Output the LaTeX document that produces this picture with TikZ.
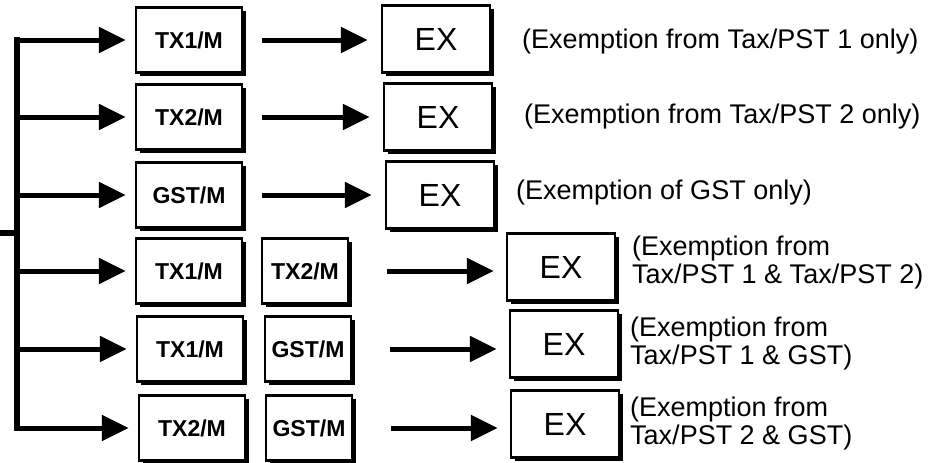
\documentclass[tikz,border=0pt]{standalone}
\usepackage{fontspec}
\setmainfont{Liberation Sans}
\usetikzlibrary{arrows.meta,shadows}
\begin{document}
\begin{tikzpicture}[x=1pt,y=-1pt,
  box/.style={draw=black, line width=2.4pt, fill=white, minimum height=65pt, inner sep=0pt,
    general shadow={fill=black, shadow xshift=3.5pt, shadow yshift=-3.5pt}},
  mbox/.style={box, minimum width=106pt, font=\fontsize{23}{26}\selectfont\bfseries},
  nbox/.style={box, minimum width=86pt, font=\fontsize{23}{26}\selectfont\bfseries},
  exbox/.style={box, minimum width=108pt, minimum height=67pt, font=\fontsize{32}{34}\selectfont},
  lbl/.style={anchor=west, inner sep=0pt, align=left, font=\fontsize{27}{28}\selectfont},
  arr/.style={line width=5pt, -{Triangle[length=27pt,width=25pt]}},
  bus/.style={line width=6pt}]
\useasboundingbox (0,0) rectangle (946,463);

% first column
\node[mbox] (a1) at (189,40) {TX1/M};
\node[mbox] (a2) at (189,117) {TX2/M};
\node[mbox] (a3) at (189,195) {GST/M};
\node[mbox] (a4) at (189,271) {TX1/M};
\node[mbox] (a5) at (190,349) {TX1/M};
\node[mbox] (a6) at (192,428) {TX2/M};

% second column
\node[nbox] (b4) at (305,271) {TX2/M};
\node[nbox] (b5) at (308,349) {GST/M};
\node[nbox] (b6) at (309,428) {GST/M};

% EX boxes
\node[exbox] (e1) at (436,39) {EX};
\node[exbox] (e2) at (438,117) {EX};
\node[exbox] (e3) at (440,195) {EX};
\node[exbox] (e4) at (561,267) {EX};
\node[exbox] (e5) at (564,344) {EX};
\node[exbox] (e6) at (565,424) {EX};

% labels
\node[lbl] (l1) at (522,42) {(Exemption from Tax/PST 1 only)};
\node[lbl] (l2) at (524,117) {(Exemption from Tax/PST 2 only)};
\node[lbl] (l3) at (516,193) {(Exemption of GST only)};
\node[lbl] (l4) at (632,263) {(Exemption from\\Tax/PST 1 \& Tax/PST 2)};
\node[lbl] (l5) at (630,344) {(Exemption from\\Tax/PST 1 \& GST)};
\node[lbl] (l6) at (630,424) {(Exemption from\\Tax/PST 2 \& GST)};

% bus
\coordinate (s1) at (17,40);
\coordinate (s2) at (17,117);
\coordinate (s3) at (17,195);
\coordinate (s4) at (17,271);
\coordinate (s5) at (17,349);
\coordinate (s6) at (17,428);
\coordinate (in) at (0,233);
\draw[bus, line cap=rect] (s1) -- (s6);
\draw[bus] (in) -- (in -| s1);

\foreach \i in {1,...,6}{
  \draw[arr, shorten >=9pt] (s\i) -- (s\i -| a\i.west);
}

% arrows to EX
\foreach \i in {1,2,3}{
  \draw[arr] ([xshift=19pt]a\i.east) -- ([xshift=-13pt]a\i.east -| e\i.west);
}
\foreach \i in {4,5,6}{
  \draw[arr] ([xshift=38pt]b\i.east) -- ([xshift=-12pt]b\i.east -| e\i.west);
}
\end{tikzpicture}
\end{document}
